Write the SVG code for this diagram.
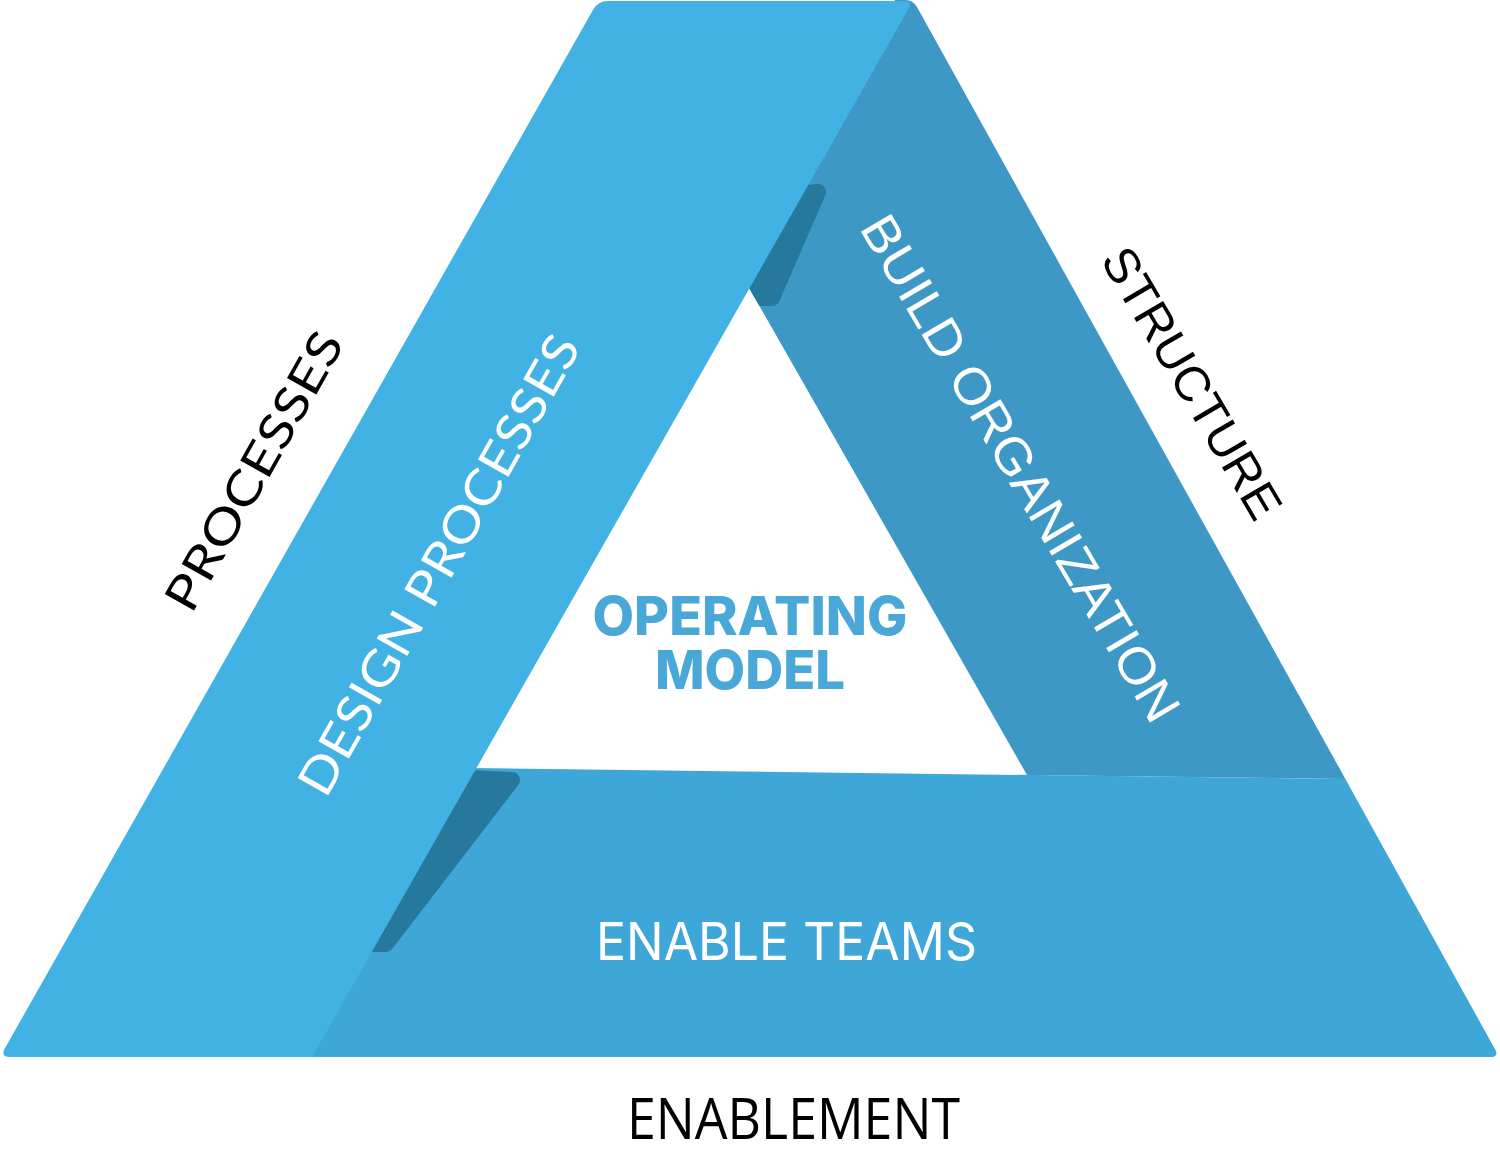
<svg xmlns="http://www.w3.org/2000/svg" width="1500" height="1172" viewBox="0 0 1500 1172">
  <style>
    .light { fill: #42B2E4; }
    .right { fill: #3E98C6; }
    .bottom { fill: #3FA7D8; }
    .strip { fill: #26799D; stroke: #26799D; stroke-width: 16; stroke-linejoin: round; }
    .white { fill: #FFFFFF; }
    .black { fill: #000000; }
    .lato { font-family: Lato, "Open Sans", sans-serif; font-weight: 400; }
    .arial { font-family: "Liberation Sans", Arial, sans-serif; font-weight: 400; }
    .inter { font-family: Inter, "Open Sans", sans-serif; font-weight: 400; }
    .open { font-family: "Open Sans", "Noto Sans", sans-serif; font-weight: 400; }
    .bold { font-family: Inter, "Open Sans", sans-serif; font-weight: 800; fill: #4AA8D8; }
  </style>
  <defs>
    <clipPath id="clipRight">
      <path d="M 740,272 L 895,0 L 905,0 Q 913,0 917,7 L 1345.4,779 L 1027,775 Z"/>
    </clipPath>
    <clipPath id="clipBottom">
      <path d="M 470,768 L 1345.4,779 L 1494.5,1048.3 Q 1500,1057 1490,1057 L 300,1057 Z"/>
    </clipPath>
  </defs>
  <rect width="1500" height="1172" fill="#FFFFFF"/>

  <g id="structure-band">
    <path class="right" d="M 740,272 L 895,0 L 905,0 Q 913,0 917,7 L 1345.4,779 L 1027,775 Z"/>
    <polygon class="strip" clip-path="url(#clipRight)" points="800,194 818,192 772,298 745,298"/>
    <text class="arial white" font-size="51" text-anchor="middle" textLength="578" lengthAdjust="spacingAndGlyphs" transform="translate(1021,468) rotate(59.5)" x="0" y="18">BUILD ORGANIZATION</text>
  </g>

  <g id="enablement-band">
    <path class="bottom" d="M 470,768 L 1345.4,779 L 1494.5,1048.3 Q 1500,1057 1490,1057 L 300,1057 Z"/>
    <polygon class="strip" clip-path="url(#clipBottom)" points="470,778 512,780 386,944 372,944"/>
    <text class="inter white" font-size="52" text-anchor="middle" textLength="381" lengthAdjust="spacingAndGlyphs" x="786.5" y="960">ENABLE TEAMS</text>
  </g>

  <g id="processes-band">
    <path class="light" d="M 608,1 L 902,1 Q 914,1 908,9.7 L 312,1057 L 10,1057 Q 0,1057 4.9,1048.3 L 593.1,9.7 Q 598,1 608,1 Z"/>
    <text class="lato white" font-size="49" text-anchor="middle" textLength="520" lengthAdjust="spacingAndGlyphs" transform="translate(439,565) rotate(-60.5)" x="0" y="17">DESIGN PROCESSES</text>
  </g>

  <g id="operating-model">
    <text class="bold" font-size="54" text-anchor="middle" textLength="315" lengthAdjust="spacingAndGlyphs" x="750" y="635">OPERATING</text>
    <text class="bold" font-size="54" text-anchor="middle" textLength="190" lengthAdjust="spacingAndGlyphs" x="750" y="689">MODEL</text>
  </g>

  <g id="label-processes">
    <text class="lato black" font-size="47" text-anchor="middle" textLength="312" lengthAdjust="spacingAndGlyphs" transform="translate(254,471) rotate(-60.5)" x="0" y="16.5">PROCESSES</text>
  </g>

  <g id="label-structure">
    <text class="arial black" font-size="49" text-anchor="middle" textLength="306" lengthAdjust="spacingAndGlyphs" transform="translate(1192,383) rotate(59.5)" x="0" y="17">STRUCTURE</text>
  </g>

  <g id="label-enablement">
    <text class="open black" font-size="56" text-anchor="middle" textLength="333" lengthAdjust="spacingAndGlyphs" x="793.5" y="1139">ENABLEMENT</text>
  </g>

  <g id="connectors"></g>
</svg>
